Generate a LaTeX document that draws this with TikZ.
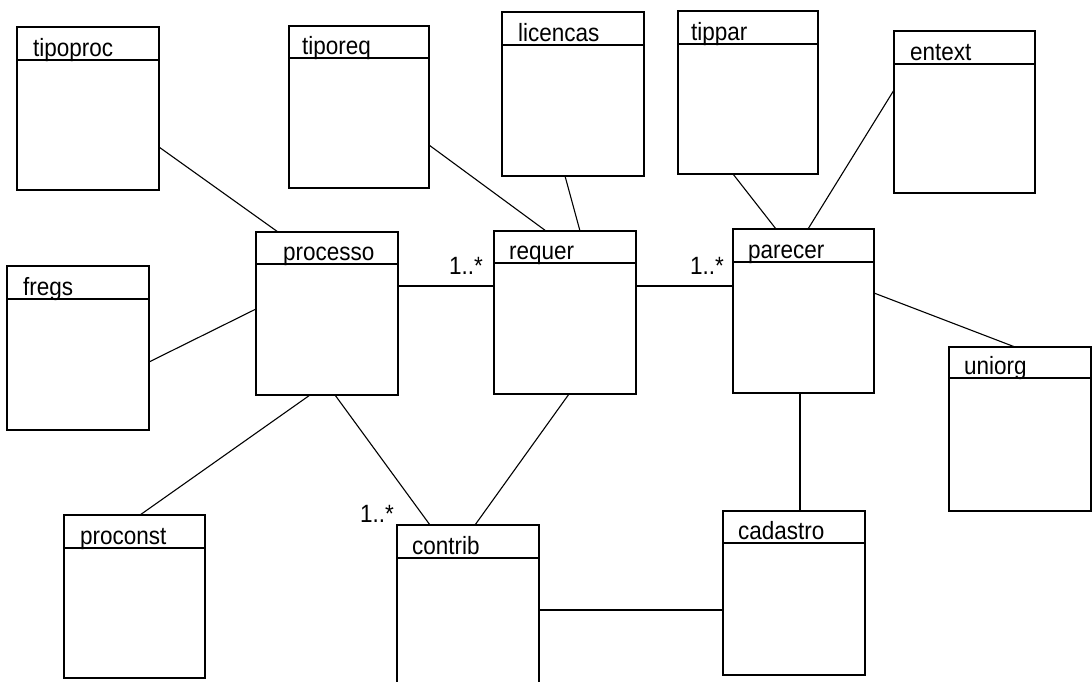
\documentclass[tikz,border=0pt]{standalone}
\usepackage{fontspec}
\setmainfont{Liberation Sans}[FakeStretch=0.9]
\begin{document}
\begin{tikzpicture}[x=1pt,y=-1pt,
  cls/.style={draw, line width=1.3pt, inner sep=0pt, outer sep=0pt, fill=white},
  hdr/.style={line width=1.3pt},
  lbl/.style={anchor=base west, inner sep=0pt, font=\fontsize{25}{29}\selectfont},
  conn/.style={line width=1.1pt}]
\useasboundingbox (0,0) rectangle (1092,681);
\clip (0,0) rectangle (1092,681);
\newcommand\umlclass[8]{%
  \node[cls, minimum width={#4-#2}, minimum height={#5-#3}] (#1) at ({(#2+#4)/2},{(#3+#5)/2}) {};
  \draw[hdr] (#1.west |- 0,#6) -- (#1.east |- 0,#6);
  \node[lbl] (#1-t) at ({#2+#7},{#6-4}) {#8};
}
% classes
\umlclass{tipoproc}{17}{27}{159}{190}{60}{16}{tipoproc}
\umlclass{tiporeq}{289}{26}{429}{188}{58}{13}{tiporeq}
\umlclass{licencas}{502}{12}{644}{176}{45}{16}{licencas}
\umlclass{tippar}{678}{11}{818}{174}{44}{13}{tippar}
\umlclass{entext}{894}{31}{1035}{193}{64}{16}{entext}
\umlclass{fregs}{7}{266}{149}{430}{299}{16}{fregs}
\umlclass{processo}{256}{232}{398}{395}{264}{27}{processo}
\umlclass{requer}{494}{231}{636}{394}{263}{15}{requer}
\umlclass{parecer}{733}{229}{874}{393}{262}{15}{parecer}
\umlclass{uniorg}{949}{347}{1091}{511}{378}{15}{uniorg}
\umlclass{proconst}{64}{515}{205}{678}{548}{16}{proconst}
\umlclass{contrib}{397}{525}{539}{705}{558}{15}{contrib}
\umlclass{cadastro}{723}{511}{865}{675}{543}{15}{cadastro}
% connectors
\draw[conn] (tipoproc.east |- 0,147) -- (processo.north -| 278,0);
\draw[conn] (fregs.east |- 0,362) -- (processo.west |- 0,309);
\draw[conn] (processo.east |- 0,286) -- (requer.west |- 0,286);
\draw[conn] (tiporeq.east |- 0,145) -- (requer.north -| 546,0);
\draw[conn] (licencas.south -| 565,0) -- (requer.north -| 580,0);
\draw[conn] (requer.east |- 0,286) -- (parecer.west |- 0,286);
\draw[conn] (tippar.south -| 733,0) -- (parecer.north -| 776,0);
\draw[conn] (entext.west |- 0,90) -- (parecer.north -| 808,0);
\draw[conn] (parecer.east |- 0,293) -- (uniorg.north -| 1015,0);
\draw[conn] (parecer.south -| 800,0) -- (cadastro.north -| 800,0);
\draw[conn] (processo.south -| 310,0) -- (proconst.north -| 140,0);
\draw[conn] (processo.south -| 335,0) -- (contrib.north -| 430,0);
\draw[conn] (requer.south -| 569,0) -- (contrib.north -| 475,0);
\draw[conn] (contrib.east |- 0,610) -- (cadastro.west |- 0,610);
% multiplicities
\node[lbl] (m1) at (449,274) {1..*};
\node[lbl] (m2) at (690,274) {1..*};
\node[lbl] (m3) at (360,522) {1..*};
\end{tikzpicture}
\end{document}
